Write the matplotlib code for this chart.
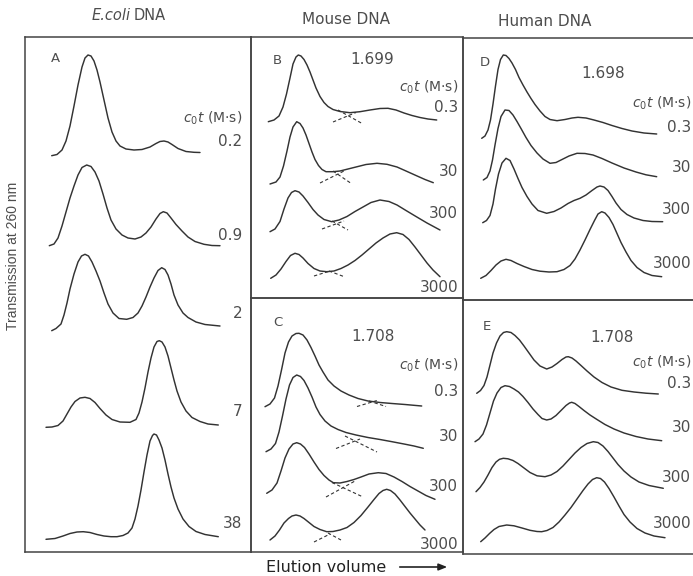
import matplotlib
matplotlib.use("Agg")
import matplotlib.pyplot as plt

plt.rcParams['font.family'] = ['DejaVu Sans']
plt.rcParams['mathtext.fontset'] = 'dejavusans'

W, H = 693, 576
INK = '#333333'
TXT = '#4d4d4d'
FRAME = '#444444'

# ---- traces: (elution, signal) in panel units ----
ecoli_traces = [
    # c0t = 0.2
    [(51.7,155.7),(57,154.5),(62,150),(66,141),(70,126),(74,106),(78,85),(82,67),(85,58),(88,55),
     (91,56),(94,61),(97,70),(100,82),(104,100),(108,118),(112,132),(116,141),(120,146),(126,149),
     (134,150),(142,149.5),(150,147),(156,143.5),(160,141.5),(164,141),(168,142),(172,144.5),
     (178,148.5),(186,151.5),(194,152.3),(200,152.5)],
    # 0.9
    [(49.3,245.7),(54,244),(58,238),(62,226),(66,212),(70,198),(74,186),(78,175),(82,167.5),
     (86.7,165),(91,166.5),(95,172),(99,181),(103,194),(107,208),(111,220),(116,229),(122,235),
     (128,238),(135,239),(141,237),(146,233),(151,227),(156,219),(160,213.5),(163.3,211.7),
     (167,213),(171,218),(176,224.5),(182,231),(188,237),(195,241.5),(204,244.3),(212,245.5),
     (220,245.7)],
    # 2
    [(51.7,330.7),(56,328.5),(61,324),(64,315),(67,303),(70,289),(74,274),(78,262),(81.5,256),
     (85,254.3),(88.5,256),(92,262),(96,271),(100,281),(104,293),(108,304),(113,313),(119,318.5),
     (126.7,319.3),(133,317.5),(138,313),(142,306),(146,297),(150,287),(154,278),(158,270.5),
     (161.7,267.7),(165,269.5),(168,275),(171,284),(174,295),(178,305),(183,313),(188,317.5),
     (196,322),(205,324.5),(220,326)],
    # 7
    [(46,427.3),(52,427),(58,425.5),(63,421),(67,414),(71,407),(75,401.5),(80,398),(85,397.3),
     (90,398.5),(95,402.5),(100,408.5),(106,415),(112,419.5),(120,422),(130,422.3),(136,419.5),
     (139,413),(142,402),(145,388),(148,372),(151,358),(154,347),(157,341.5),(159.3,340.7),
     (162,342),(165,347),(168,356),(171,368),(174,380),(177,391),(181,402),(186,411),
     (192,417.5),(200,421.5),(208,424),(218.3,425)],
    # 38
    [(46,539.3),(55,538.5),(63,536),(70,533.5),(77,532),(83.3,531.7),(90,532.5),(97,534.5),
     (104,536),(111,536.7),(117,536.7),(123,535.5),(128,533),(132,528),(135,519),(138,506),
     (141,490),(144,472),(147,455),(150,441),(152.5,435.5),(154,434),(156.5,435),(159,440),
     (162,448),(165,460),(168,474),(171,487),(174,498),(178,509),(183,519),(189,526.5),
     (196,531.5),(205,534.5),(218.3,536.7)],
]

mouse699_traces = [
    [(268.3,121.7),(274,120),(279,116),(283,107),(286.5,94),(290,78),(293,64),(296,57),(298.3,55),
     (301,56),(304,59.5),(307,65),(310,72),(313,80),(316,88),(320,96.5),(324,102.5),(328,106.5),
     (333,109.5),(340,111.5),(350,112.7),(360,111.7),(370,110),(380,108.5),(388,108.3),(396,110),
     (404,113),(412,115.5),(420,117.5),(428,119),(436.7,120)],
    [(270,184),(276,182),(280,177),(283.5,166),(287,151),(290,137),(293,127),(296.7,121.7),
     (300,123.5),(303,128),(306,135),(309,143.5),(312,152),(315,159.5),(318.5,165.5),(322,169.5),
     (326,171.7),(333,171.7),(340,171),(348,169),(356,167),(366,164.5),(377,163.3),(387,164.3),
     (397,167),(406,171),(416,175.5),(425,179.5),(433.3,182.7)],
    [(270,231.7),(275,229),(280,221.5),(284,209),(288,198),(291.5,192.5),(295,190.7),(299,192),
     (303,196),(308,202.5),(313,209.5),(318,215),(324,219.5),(331.7,221.7),(339,220),(347,216.5),
     (355,211.5),(363,207),(371,202.5),(380,200),(389,201.5),(397,205),(406,210.5),(416,216.5),
     (427,223),(440,230)],
    [(270.7,278.3),(276,275),(281,269),(286,261.5),(290.5,255.5),(295,253.3),(299,254.5),(303,258),
     (308,263.5),(314,268.5),(320,271),(326.7,271.7),(334,271),(341,268.5),(348,265),(355,260.5),
     (362,255),(369,249),(376,243),(383,238),(390,234),(396.7,232.7),(403,234.5),(409,239.5),
     (415,247),(421,255),(427,263),(433,270),(440,276.7)],
]

mouse708_traces = [
    [(265,406.7),(270,404),(274.5,398),(278,386),(281.5,370),(285,353),(288.5,342),(292,336),
     (296,333.5),(299,333.3),(303,335),(307,340),(311,347.5),(315,356),(319,365),(323,372),
     (328,380),(334,386),(341,391),(349,395),(358,398.5),(368,401),(380,402.5),(392,403.5),
     (405,404.5),(421.7,406)],
    [(266,451.7),(271,449),(275.5,443.5),(279,432),(282.5,416),(286,399),(289.5,385),(293,377.5),
     (296.7,375),(300.5,376.5),(304,380.5),(308,388),(312,397),(316,407),(320,414.5),(325,421),
     (331,426),(338,429.5),(346,432.5),(356,435),(368,437.5),(380,439.5),(392,441.7),(404,444),
     (414,446),(423.3,448.3)],
    [(266.7,493.3),(272,490),(277,483),(281,471),(285,458),(289,449),(293,444),(296.7,442.7),
     (300.5,444),(304.5,447.5),(309,454),(314,462),(319,469.5),(324,475.5),(329,480),(333.3,482.7),
     (340,483),(347,481.5),(354,479.5),(361,477),(369,474),(378.3,472.7),(386,473.5),(394,477),
     (402,481.5),(410,486.5),(418,491),(426,495.5),(435,499.3)],
    [(270,540),(275,536),(279.5,530),(284,523),(288.5,518.5),(292,516),(296,515),(300,516),
     (304,518.5),(309,522.5),(314,526.5),(320,529.5),(326.7,531.7),(333,531.5),(340,530),
     (347,527.5),(354,522.5),(361,515.5),(368,507),(374,499.5),(379,493.5),(383,490.5),
     (386.7,489.3),(390.5,490.5),(395,494),(400,500),(405,506.5),(410,513),(415,519),(420,525),
     (425,530)],
]

human698_traces = [
    [(481.7,138.3),(485,136),(488,130),(490.5,120),(493,104),(495.5,86),(498,69.5),(500.5,59.5),
     (503.3,55),(506,55.5),(509,58.5),(512,63),(515.5,69.5),(519,77.5),(523,85),(527,92),
     (531,98.5),(535,104.5),(540,111),(545,116.5),(550,119.5),(557,120.7),(565,119.5),(572,118),
     (578,117.3),(586,118),(594,120),(603,122.5),(612,125.5),(622,128.5),(632,131),(644,133),
     (656.7,134)],
    [(483.3,180),(487,177.5),(490,171),(492.5,160),(495,145),(498,128.5),(501,116.5),(505,110),
     (509,110.5),(513,115),(517,121.5),(521,128.5),(526,137.5),(531,145.5),(537,153),(543,159),
     (550,163.3),(556,162.5),(562,159.5),(569,156),(577,153.3),(585,153.5),(593,155),(602,158.5),
     (612,163),(624,168),(636,172),(646,174.8),(656.7,176.7)],
    [(482.7,222.7),(486.5,220.5),(490,215.5),(493,204),(495.5,189),(498.5,174),(502,163),
     (506,158.3),(510,160.5),(514,169),(518,178.5),(522,187.5),(527,196.5),(532,204),(538,210.5),
     (546.7,213.3),(554,211.5),(561,208),(568,203.5),(574,200.5),(580,198.3),(586,195),
     (592,190.5),(597,187),(600,186),(604,187),(608,190.5),(612,196.5),(616,203),(621,209.5),
     (627,214.5),(634,218),(643,220.5),(652,221.5),(662.7,221.7)],
    [(480.7,278.3),(486,275.5),(491,270.5),(496,265),(501,261),(506,259.3),(511,260.5),
     (517,263.5),(524,266.5),(532,269.5),(540,271.2),(549,272),(557,271.7),(564,269.5),
     (570,265.5),(575,259),(580,250),(585,240),(590,229.5),(594.5,220.5),(598,214),(601.7,211.7),
     (605,213),(609,217.5),(613,224.5),(617,233.5),(621,242.5),(626,252),(631,260.5),(637,267.5),
     (644,272.5),(652,275.5),(661.7,276.7)],
]

human708_traces = [
    [(476.7,393.3),(480.5,390.5),(484,385.5),(487,377),(490,365),(493,353),(496.5,343),(500,336),
     (503.5,332.5),(506.7,331.7),(511,332.5),(515,335.5),(519.5,340),(524,346),(529,353),
     (534,360),(540,366),(546.7,369),(552,367),(557,363.5),(562,359.5),(566,357),(568.3,356.7),
     (572,358),(576,361),(581,365.5),(587,371),(594,377),(602,382.5),(611,387),(622,390.3),
     (634,392),(646,393.2),(658.3,394)],
    [(475,441.7),(479,439),(483,434),(486.5,425),(490,413),(493.5,401),(497,393),(501,387.5),
     (505,385.7),(509.5,386.5),(514,389),(518.5,392),(523,396.5),(528,402.5),(533,409),
     (538,414.5),(542,418.5),(546.7,420),(551,419),(556,415.5),(561,410.5),(566,405.5),
     (569.5,403),(571.7,402.3),(575,403.5),(579,406.5),(584,410.5),(590,415),(597,419.5),
     (605,424.5),(614,429),(624,433),(636,436.5),(648,439),(661.7,440.7)],
    [(476,491.7),(480,487.5),(484,482),(488,475),(492,467.5),(496,462),(499.5,459.3),(503.3,458.3),
     (508,458.8),(513,460.5),(518,463.5),(524,468),(530,472.5),(537,475.8),(545,476.7),(551,475),
     (557,471.5),(563,466),(569,459.5),(575,453),(581,447.5),(587,443.5),(593.3,441.7),(598,442.5),
     (603,446),(608,451.5),(613,458),(618,464.5),(624,471),(631,477),(639,482),(649,485.5),
     (663.3,488.3)],
    [(480.7,541.7),(485,538),(489.5,533.5),(494,529.5),(499,526.5),(506.7,525),(514,525.8),
     (522,528),(530,530.3),(537,531.5),(541.7,531.7),(547,530.5),(553,527.5),(559,522),(565,515),
     (571,507.5),(577,499),(583,490.5),(588,484),(592.5,479.5),(596.7,477.7),(600.5,478.5),
     (604.5,482),(609,488.5),(614,497),(619,506),(624,514.5),(630,522),(637,528.5),(645,533),
     (654,536),(665,537.7)],
]

# extrapolated component tails (dashed) under the troughs
mouse699_tails = [
    [(333,122),(356,112.5)], [(338,110),(363,124)],
    [(320,183),(344,171)], [(333,171),(352,184)],
    [(322,229),(344,221)], [(332,221),(348,230)],
    [(314,276),(330,271)], [(329,271),(345,277)],
]
mouse708_tails = [
    [(357,406.5),(377,400.5)], [(369,401),(386,406.5)],
    [(336,448.5),(360,439)], [(345,436),(377,452)],
    [(326,497),(355,481)], [(332,482.5),(362,496.5)],
    [(314,542),(330,534)], [(328,533),(341,540)],
]

ecoli_c0t = ['0.2', '0.9', '2', '7', '38']
mouse699_c0t = ['0.3', '30', '300', '3000']
mouse708_c0t = ['0.3', '30', '300', '3000']
human698_c0t = ['0.3', '30', '300', '3000']
human708_c0t = ['0.3', '30', '300', '3000']


def make_panel(fig, x0, x1, y0, y1, right=True):
    ax = fig.add_axes([x0 / W, 1 - y1 / H, (x1 - x0) / W, (y1 - y0) / H])
    ax.set_xlim(x0, x1)
    ax.set_ylim(y1, y0)
    ax.set_xticks([])
    ax.set_yticks([])
    ax.patch.set_alpha(0)
    for s in ax.spines.values():
        s.set_color(FRAME)
        s.set_linewidth(1.1)
    if not right:
        ax.spines['right'].set_visible(False)
    return ax


def draw_traces(ax, traces, tails=None):
    for tr in traces:
        xs = [p[0] for p in tr]
        ys = [p[1] for p in tr]
        ax.plot(xs, ys, color=INK, lw=1.05, solid_capstyle='round', solid_joinstyle='round')
    if tails:
        for seg in tails:
            ax.plot([seg[0][0], seg[1][0]], [seg[0][1], seg[1][1]], color=INK, lw=0.8,
                    dashes=(3, 2.2))


def label_panel(ax, letter, lpos, density, dpos, c0t_pos, labels, label_y, xr):
    ax.text(lpos[0], lpos[1], letter, fontsize=9.5, color=TXT, ha='center', va='center')
    if density:
        ax.text(dpos[0], dpos[1], density, fontsize=11, color=TXT, ha='center', va='center')
    ax.text(xr, c0t_pos, r'$c_0t$ (M$\cdot$s)', fontsize=10, color=TXT, ha='right', va='center')
    for lab, y in zip(labels, label_y):
        ax.text(xr, y, lab, fontsize=11, color=TXT, ha='right', va='center')


def main():
    fig = plt.figure(figsize=(W / 100, H / 100), dpi=100)
    fig.patch.set_facecolor('white')

    axA = make_panel(fig, 25, 251, 37, 552)
    axB = make_panel(fig, 251, 463, 37, 298)
    axC = make_panel(fig, 251, 463, 298, 552)
    axD = make_panel(fig, 463, 693, 38, 300, right=False)
    axE = make_panel(fig, 463, 693, 300, 554, right=False)

    draw_traces(axA, ecoli_traces)
    draw_traces(axB, mouse699_traces, mouse699_tails)
    draw_traces(axC, mouse708_traces, mouse708_tails)
    draw_traces(axD, human698_traces)
    draw_traces(axE, human708_traces)

    label_panel(axA, 'A', (55, 59), None, None, 118, ecoli_c0t, [142, 235, 313, 411, 523], 242)
    label_panel(axB, 'B', (277, 60), '1.699', (372, 60), 87, mouse699_c0t, [108, 172, 213, 287], 458)
    label_panel(axC, 'C', (278, 323), '1.708', (373, 337), 365, mouse708_c0t, [392, 437, 487, 545], 458)
    label_panel(axD, 'D', (485, 62), '1.698', (603, 73), 103, human698_c0t, [128, 168, 210, 263], 691)
    label_panel(axE, 'E', (487, 327), '1.708', (612, 337), 362, human708_c0t, [383, 428, 477, 523], 691)

    fig.text(92 / W, 1 - 15 / H, 'E.coli', fontsize=10.5, color=TXT, style='italic',
             ha='left', va='center')
    fig.text(134 / W, 1 - 15 / H, 'DNA', fontsize=10.5, color=TXT, ha='left', va='center')
    fig.text(346 / W, 1 - 20 / H, 'Mouse DNA', fontsize=11, color=TXT, ha='center', va='center')
    fig.text(545 / W, 1 - 22 / H, 'Human DNA', fontsize=11, color=TXT, ha='center', va='center')

    fig.text(13 / W, 1 - 256 / H, 'Transmission at 260 nm', fontsize=10, color=TXT,
             family='Liberation Sans', rotation=90, ha='center', va='center')

    fig.text(266 / W, 1 - 567 / H, 'Elution volume', fontsize=11.5, color='#222222',
             ha='left', va='center')
    fig.add_artist(matplotlib.patches.FancyArrowPatch(
        (397 / W, 1 - 567 / H), (450 / W, 1 - 567 / H), transform=fig.transFigure,
        arrowstyle='-|>,head_length=5,head_width=2', color='#222222', lw=1.2))

    fig.savefig('out.png', dpi=100, facecolor='white')


main()
